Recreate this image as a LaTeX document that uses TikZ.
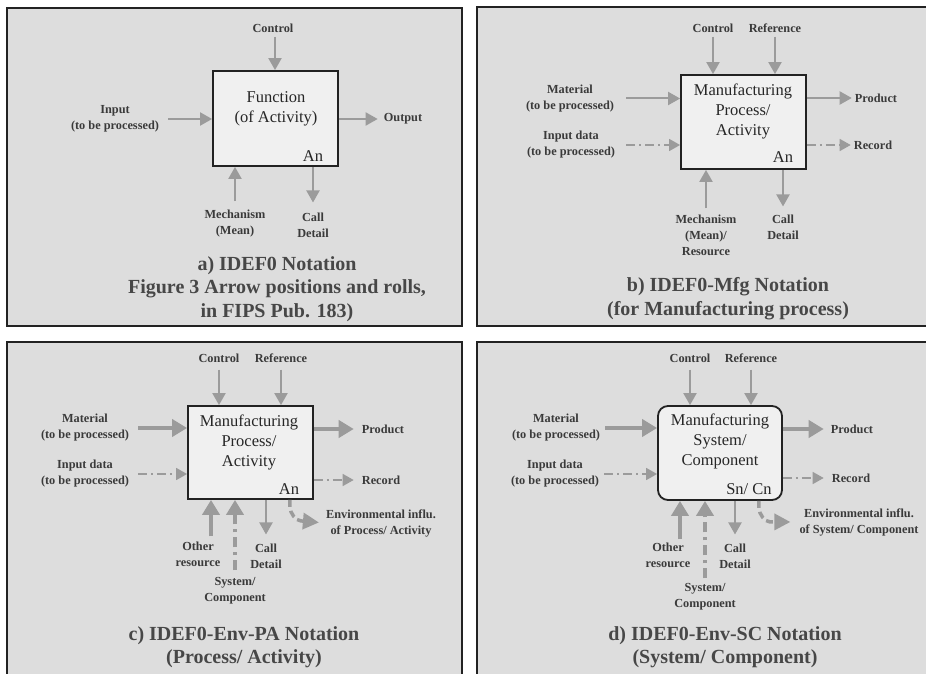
\documentclass[tikz,border=0pt]{standalone}
\usepackage{fontspec}
\setmainfont{Liberation Serif}
\usetikzlibrary{arrows.meta}
\definecolor{panelfill}{HTML}{DDDDDD}
\definecolor{boxfill}{HTML}{F0F0F0}
\definecolor{arrgray}{HTML}{9B9B9B}
\definecolor{lbltext}{HTML}{3A3A3A}
\definecolor{captext}{HTML}{474747}
\definecolor{edgecol}{HTML}{222222}
\begin{document}
\begin{tikzpicture}[x=1pt,y=-1pt,
  panelline/.style={draw=edgecol, line width=1.5pt},
  fbox/.style={draw=edgecol, fill=boxfill, line width=1.8pt, inner sep=0pt},
  boxtext/.style={font=\fontsize{16.5}{20}\selectfont, text=black!85, align=center, inner sep=1pt},
  lbl/.style={font=\bfseries\fontsize{12.3}{16}\selectfont, text=lbltext, align=center, inner sep=1pt},
  captxt/.style={font=\bfseries\fontsize{20}{23.5}\selectfont, text=captext, align=center, inner sep=1pt},
  arr/.style={draw=arrgray, line width=2pt, -{Triangle[width=13pt,length=12pt]}},
  thickarr/.style={draw=arrgray, line width=4.5pt, -{Triangle[width=17pt,length=15pt]}},
  dasharr/.style={draw=arrgray, line width=1.5pt, dash pattern=on 9pt off 4pt on 2pt off 4pt, -{Triangle[width=12pt,length=11pt]}},
  dashthick/.style={draw=arrgray, line width=4pt, dash pattern=on 10pt off 5pt on 3pt off 5pt, -{Triangle[width=17pt,length=15pt]}},
  envarr/.style={draw=arrgray, line width=3.5pt, dash pattern=on 7pt off 4pt, -{Triangle[width=16pt,length=16pt]}}
]
\useasboundingbox (0,0) rectangle (926,674);
\fill[white] (0,0) rectangle (926,674);
% ---------- panels
\fill[panelfill] (7,8) rectangle (462,326);
\draw[panelline] (7,8) rectangle (462,326);
\fill[panelfill] (477,7) rectangle (926,326);
\draw[panelline] (926,7) -- (477,7) -- (477,326) -- (926,326);
\fill[panelfill] (7,342) rectangle (462,674);
\draw[panelline] (7,674) -- (7,342) -- (462,342) -- (462,674);
\fill[panelfill] (477,342) rectangle (926,674);
\draw[panelline] (926,342) -- (477,342) -- (477,674);

% ================= panel a
\node[fbox, minimum width=125pt, minimum height=95pt] (boxA) at (275.5,118.5) {};
\node[boxtext] (funcA) at (276,109) {Function\\(of Activity)};
\node[boxtext] (anA) at (313,156) {An};
\node[lbl] (ctlA) at (273,28) {Control};
\node[lbl] (inA) at (115,119) {Input\\(to be processed)};
\node[lbl] (outA) at (403,119) {Output};
\node[lbl] (mechA) at (235,224) {Mechanism\\(Mean)};
\node[lbl] (callA) at (313,225) {Call\\Detail};
\node[captxt] (capA) at (277,289) {a) IDEF0 Notation\\Figure 3 Arrow positions and rolls,\\in FIPS Pub. 183)};
\draw[arr, shorten <=3pt] ([xshift=2pt]ctlA.south) -- ([xshift=2pt]ctlA.south |- boxA.north);
\draw[arr, shorten <=8pt] (inA.east) -- (inA.east -| boxA.west);
\draw[arr, shorten >=5pt] (outA.west -| boxA.east) -- (outA.west);
\draw[arr, shorten <=8pt] (mechA.north) -- (mechA.north |- boxA.south);
\draw[arr, shorten >=9pt] (callA.north |- boxA.south) -- (callA.north);

% ================= panel b
\node[fbox, minimum width=125pt, minimum height=94pt] (boxB) at (743.5,122) {};
\node[boxtext] (txtB) at (743,111.5) {Manufacturing\\Process/\\Activity};
\node[boxtext] (anB) at (783,157) {An};
\node[lbl] (ctlB) at (713,28) {Control};
\node[lbl] (refB) at (775,28) {Reference};
\node[lbl] (matB) at (570,98.5) {Material\\(to be processed)};
\node[lbl] (indB) at (571,145) {Input data\\(to be processed)};
\node[lbl] (prodB) at (876,98) {Product};
\node[lbl] (recB) at (873,145) {Record};
\node[lbl] (mechB) at (706,235) {Mechanism\\(Mean)/\\Resource};
\node[lbl] (callB) at (783,227) {Call\\Detail};
\node[captxt] (capB) at (728,298.5) {b) IDEF0-Mfg Notation\\(for Manufacturing process)};
\draw[arr, shorten <=3pt] (ctlB.south) -- (ctlB.south |- boxB.north);
\draw[arr, shorten <=3pt] (refB.south) -- (refB.south |- boxB.north);
\draw[arr, shorten <=11pt] (matB.east) -- (matB.east -| boxB.west);
\draw[dasharr, shorten <=10pt] (indB.east) -- (indB.east -| boxB.west);
\draw[arr, shorten >=2pt] (prodB.west -| boxB.east) -- (prodB.west);
\draw[dasharr, shorten >=2pt] (recB.west -| boxB.east) -- (recB.west);
\draw[arr, shorten <=5pt] (mechB.north) -- (mechB.north |- boxB.south);
\draw[arr, shorten >=7pt] (callB.north |- boxB.south) -- (callB.north);

% ================= panel c
\node[fbox, minimum width=125pt, minimum height=93pt] (boxC) at (250.5,452.5) {};
\node[boxtext] (txtC) at (249,442) {Manufacturing\\Process/\\Activity};
\node[boxtext] (anC) at (289,489) {An};
\node[lbl] (ctlC) at (219,358) {Control};
\node[lbl] (refC) at (281,358) {Reference};
\node[lbl] (matC) at (85,428) {Material\\(to be processed)};
\node[lbl] (indC) at (85,474) {Input data\\(to be processed)};
\node[lbl] (prodC) at (383,429) {Product};
\node[lbl] (recC) at (381,480) {Record};
\node[lbl] (envC) at (381,523) {Environmental influ.\\of Process/ Activity};
\node[lbl] (othC) at (198,554) {Other\\resource};
\node[lbl] (sysC) at (235,591) {System/\\Component};
\node[lbl] (callC) at (266,556) {Call\\Detail};
\node[captxt] (capC) at (244,647) {c) IDEF0-Env-PA Notation\\(Process/ Activity)};
\draw[arr, shorten <=6pt] (ctlC.south) -- (ctlC.south |- boxC.north);
\draw[arr, shorten <=6pt] (refC.south) -- (refC.south |- boxC.north);
\draw[thickarr, shorten <=8pt] (matC.east) -- (matC.east -| boxC.west);
\draw[dasharr, shorten <=8pt] (indC.east) -- (indC.east -| boxC.west);
\draw[thickarr, shorten >=7pt] (prodC.west -| boxC.east) -- (prodC.west);
\draw[dasharr, shorten >=7pt] (recC.west -| boxC.east) -- (recC.west);
\draw[thickarr, shorten <=4pt] ([xshift=13pt]othC.north) -- ([xshift=13pt]othC.north |- boxC.south);
\draw[dashthick, shorten <=6pt] (sysC.north) -- (sysC.north |- boxC.south);
\draw[arr, shorten >=8pt] (callC.north |- boxC.south) -- (callC.north);
\draw[envarr, shorten >=6pt] ([xshift=-24pt]boxC.south east) -- ++(0,7) .. controls +(0,6) and +(-5,0) .. ++(11,14) -- (envC.west);

% ================= panel d
\node[fbox, rounded corners=10pt, minimum width=124pt, minimum height=94pt] (boxD) at (720,453) {};
\node[boxtext] (txtD) at (720,441) {Manufacturing\\System/\\Component};
\node[boxtext] (snD) at (749,489) {Sn/ Cn};
\node[lbl] (ctlD) at (690,358) {Control};
\node[lbl] (refD) at (751,358) {Reference};
\node[lbl] (matD) at (556,428) {Material\\(to be processed)};
\node[lbl] (indD) at (555,474) {Input data\\(to be processed)};
\node[lbl] (prodD) at (852,429) {Product};
\node[lbl] (recD) at (851,478) {Record};
\node[lbl] (envD) at (859,522) {Environmental influ.\\of System/ Component};
\node[lbl] (othD) at (668,555) {Other\\resource};
\node[lbl] (sysD) at (705,597) {System/\\Component};
\node[lbl] (callD) at (735,556) {Call\\Detail};
\node[captxt] (capD) at (725,647) {d) IDEF0-Env-SC Notation\\(System/ Component)};
\draw[arr, shorten <=6pt] (ctlD.south) -- (ctlD.south |- boxD.north);
\draw[arr, shorten <=6pt] (refD.south) -- (refD.south |- boxD.north);
\draw[thickarr, shorten <=4pt] (matD.east) -- (matD.east -| boxD.west);
\draw[dasharr, shorten <=4pt] (indD.east) -- (indD.east -| boxD.west);
\draw[thickarr, shorten >=6pt] (prodD.west -| boxD.east) -- (prodD.west);
\draw[dasharr, shorten >=7pt] (recD.west -| boxD.east) -- (recD.west);
\draw[thickarr, shorten <=2pt] ([xshift=12pt]othD.north) -- ([xshift=12pt]othD.north |- boxD.south);
\draw[dashthick, shorten <=4pt] (sysD.north) -- (sysD.north |- boxD.south);
\draw[arr, shorten >=8pt] (callD.north |- boxD.south) -- (callD.north);
\draw[envarr, shorten >=8pt] ([xshift=-24pt]boxD.south east) -- ++(0,7) .. controls +(0,6) and +(-5,0) .. ++(11,14) -- (envD.west);
\end{tikzpicture}
\end{document}
